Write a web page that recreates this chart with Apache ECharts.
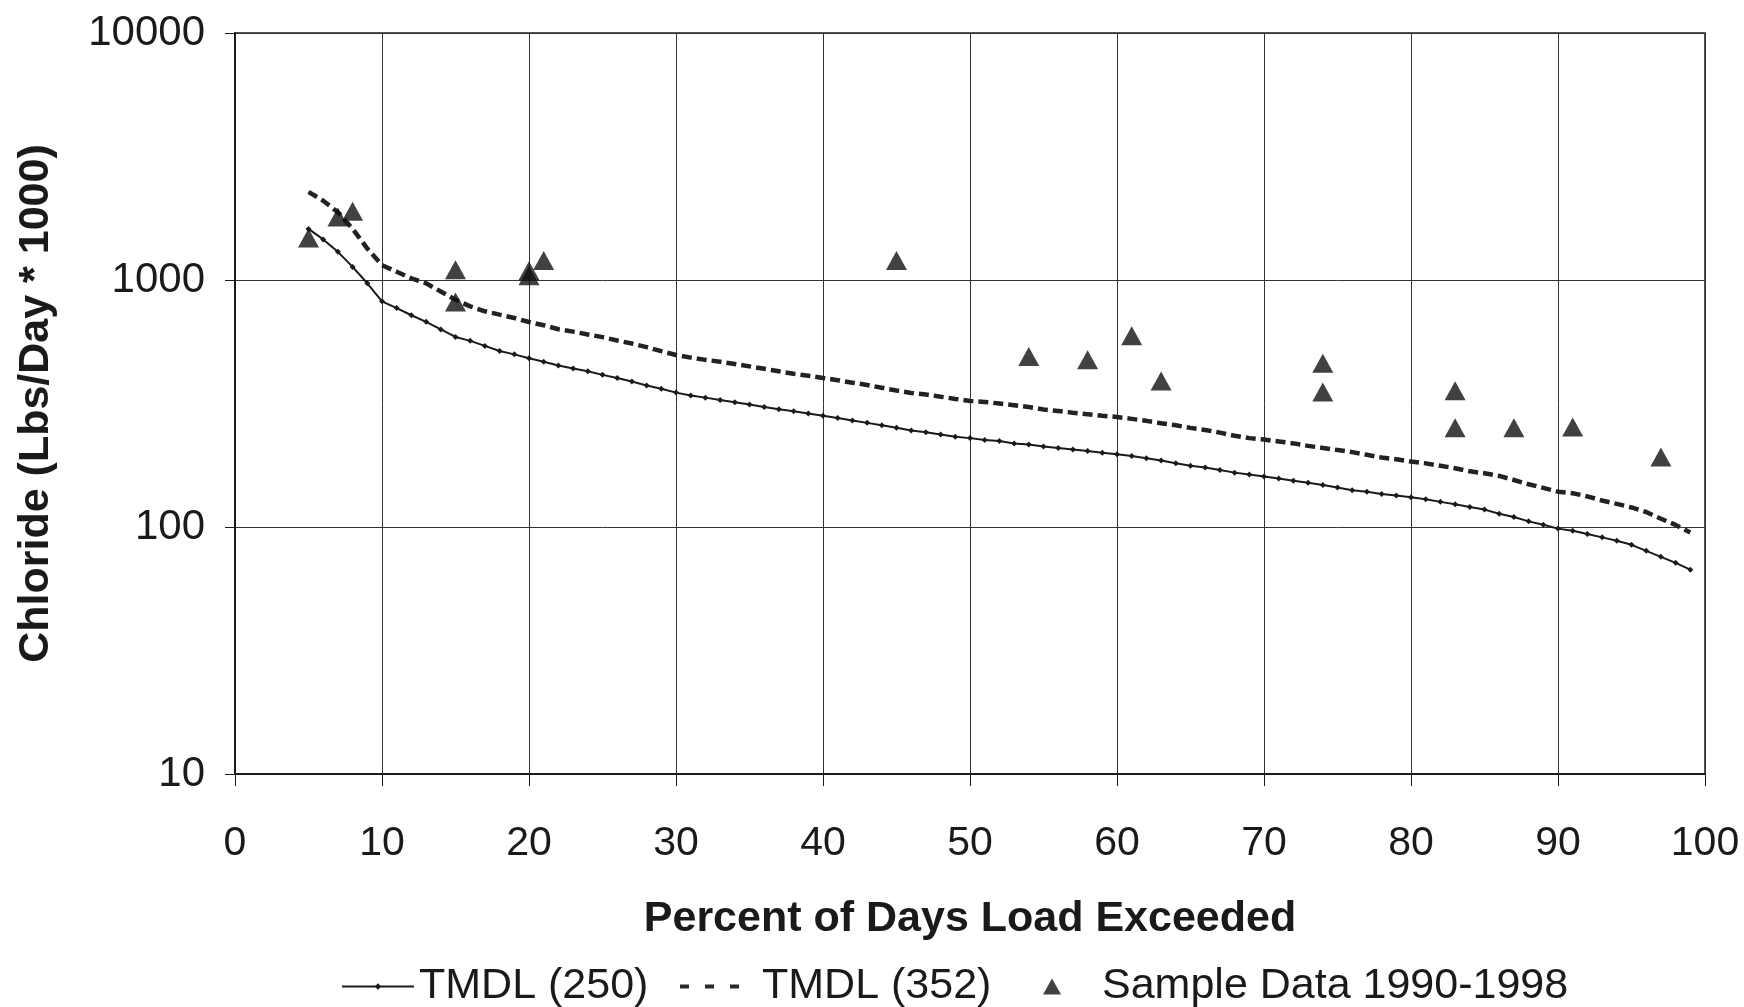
<!DOCTYPE html>
<html><head><meta charset="utf-8">
<script src="https://cdn.jsdelivr.net/npm/echarts@6/dist/echarts.min.js"></script>
<style>html,body{margin:0;padding:0;background:#fff}#c{width:1744px;height:1007px}</style>
</head><body><div id="c"></div>
<script>
// Percent of days load exceeded (x positions of the TMDL curve points)
const pct = [5,6,7,8,9,10,11,12,13,14,
  15,16,17,18,19,20,21,22,23,24,
  25,26,27,28,29,30,31,32,33,34,
  35,36,37,38,39,40,41,42,43,44,
  45,46,47,48,49,50,51,52,53,54,
  55,56,57,58,59,60,61,62,63,64,
  65,66,67,68,69,70,71,72,73,74,
  75,76,77,78,79,80,81,82,83,84,
  85,86,87,88,89,90,91,92,93,94,
  95,96,97,98,99];
// TMDL (250) curve, Lbs/Day * 1000
const tmdl250 = [1610,1460,1300,1130,970,820,770,720,677,631,
  588,567,541,516,500,482,467,451,438,427,
  413,401,388,374,363,350,341,334,327,320,
  313,306,300,294,288,282,276,270,264,258,
  252,246,242,237,232,229,225,223,218,216,
  212,209,206,203,200,197,194,190,186,181,
  177,174,170,166,163,160,157,154,151,148,
  144.5,141,139,136,134,132,129.5,126.4,123.7,120.5,
  117.6,113.2,109.8,105.4,102.2,98.5,96.6,93.7,90.8,88,
  84.7,80.1,75.7,71.6,67.2];
// TMDL (352) curve
const tmdl352 = [2275,2094,1880,1611,1340,1148,1080,1016,970,898,
  832,782,747,724,702,676,656,632,618,602,
  587,569,553,535,515,497,485,475,467,457,
  447,437,427,417,410,401,393,384,376,366,
  357,349,344,337,330,324,321,316,311,306,
  299,295,290,286,282,279,274,269,263,258,
  252,247,241,234,229,226,222,218,213,209,
  205,201,196,191,188,184,181,177,173,168,
  165,161,155,149,144,139,137,133,128,124,
  120,115,108,102,95];
// Sample data 1990-1998
const sampleX = [5,7,8,15,15,20,20,21,45,54,58,61,63,74,74,83,83,87,91,97];
const sampleY = [1480,1800,1900,1100,815,1090,1040,1200,1200,490,475,595,390,460,352,356,252,252,254,192];

const xTicks = [0,10,20,30,40,50,60,70,80,90,100];
const yTicks = [10,100,1000,10000];

const FONT = '"Liberation Sans", Arial, Helvetica, sans-serif';
const INK = '#1a1a1a';

const chart = echarts.init(document.getElementById('c'), null, {renderer: 'canvas'});
chart.setOption({
  backgroundColor: '#ffffff',
  animation: false,
  textStyle: {fontFamily: FONT, color: INK},
  grid: {left: 235, right: 39, top: 33, bottom: 233, show: true, borderColor: INK, borderWidth: 1.5, backgroundColor: 'transparent'},
  xAxis: {
    type: 'value', min: xTicks[0], max: xTicks[xTicks.length - 1], interval: 10,
    name: 'Percent of Days Load Exceeded', nameLocation: 'middle', nameGap: 124,
    nameTextStyle: {fontFamily: FONT, fontSize: 43, fontWeight: 'bold', color: INK},
    axisLine: {show: true, lineStyle: {color: INK, width: 2}},
    axisTick: {show: true, inside: false, length: 12, lineStyle: {color: INK, width: 1}},
    axisLabel: {fontFamily: FONT, fontSize: 41, color: INK, margin: 49, formatter: v => String(v)},
    splitLine: {show: true, lineStyle: {color: '#333', width: 1}}
  },
  yAxis: {
    type: 'log', logBase: 10, min: yTicks[0], max: yTicks[yTicks.length - 1],
    name: 'Chloride (Lbs/Day * 1000)', nameLocation: 'middle', nameGap: 177,
    nameTextStyle: {fontFamily: FONT, fontSize: 43, fontWeight: 'bold', color: INK},
    axisLine: {show: true, lineStyle: {color: INK, width: 2}},
    axisTick: {show: true, inside: false, length: 10, lineStyle: {color: INK, width: 1}},
    axisLabel: {fontFamily: FONT, fontSize: 42, color: INK, margin: 30, formatter: v => String(Math.round(v))},
    splitLine: {show: true, lineStyle: {color: '#333', width: 1}},
    minorTick: {show: false}
  },
  legend: [
    {data: ['TMDL (250)'], left: 336, top: 960, itemWidth: 72, itemHeight: 8, itemGap: 0,
      textStyle: {fontFamily: FONT, fontSize: 43, color: INK}},
    {data: ['TMDL (352)'], left: 673, top: 960, itemWidth: 72, itemHeight: 8, itemGap: 0,
      itemStyle: {opacity: 0},
      lineStyle: {type: [9, 16], width: 4, color: '#2a2a2a'},
      textStyle: {fontFamily: FONT, fontSize: 43, color: INK, padding: [0, 0, 0, 5]}},
    {data: ['Sample Data 1990-1998'], left: 1038, top: 960, itemWidth: 18, itemHeight: 16, itemGap: 0,
      textStyle: {fontFamily: FONT, fontSize: 43, color: INK, padding: [0, 0, 0, 36]}}
  ],
  series: [
    {
      name: 'TMDL (250)', type: 'line',
      data: pct.map((p, i) => [p, tmdl250[i]]),
      symbol: 'diamond', symbolSize: 6, showAllSymbol: true,
      lineStyle: {color: INK, width: 2},
      itemStyle: {color: INK},
      z: 3
    },
    {
      name: 'TMDL (352)', type: 'line',
      data: pct.map((p, i) => [p, tmdl352[i]]),
      symbol: 'none',
      lineStyle: {color: '#222', width: 4.5, type: [10, 5]},
      itemStyle: {color: '#222'},
      z: 3
    },
    {
      name: 'Sample Data 1990-1998', type: 'scatter',
      data: sampleX.map((x, i) => [x, sampleY[i]]),
      symbol: 'triangle', symbolSize: [21, 19],
      itemStyle: {color: '#111'},
      z: 4
    }
  ]
});
</script></body></html>
